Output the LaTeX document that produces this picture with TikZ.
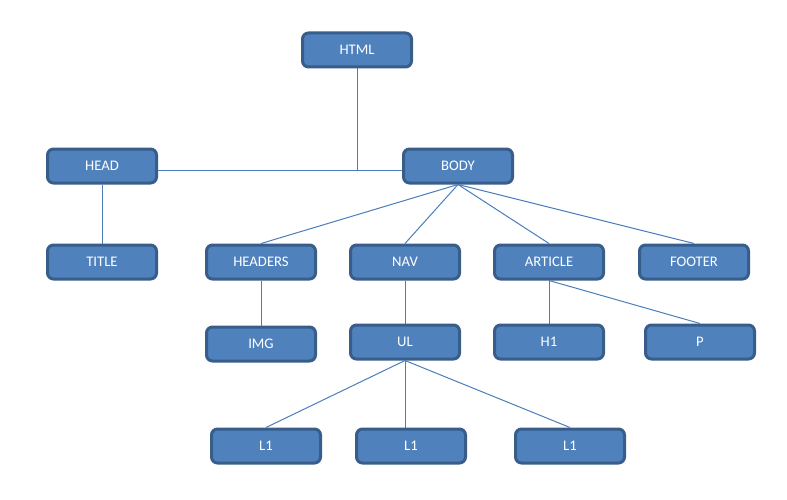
\documentclass[tikz,border=0pt]{standalone}
\usepackage{fontspec}
\setmainfont{Carlito}
\usetikzlibrary{positioning}
\definecolor{boxfill}{HTML}{4F81BD}
\definecolor{boxline}{HTML}{385D8A}
\definecolor{linkblue}{HTML}{4A7EBB}

\begin{document}
\begin{tikzpicture}[x=0.75pt, y=-0.75pt, node distance=24pt,
    tag/.style={draw=boxline, fill=boxfill, line width=2.25pt, rounded corners=4.5pt,
      minimum width=81.75pt, minimum height=25.5pt, text=white,
      font=\fontsize{11}{13}\selectfont},
    wire/.style={draw=linkblue, line width=0.75pt}]
      \useasboundingbox (0,0) rectangle (787,499);

      % top levels
      \node[tag] (html) at (357,50) {HTML};
      \node[tag] (head) [below left=59.25pt and 107.25pt of html] {HEAD};
      \node[tag] (body) [right=183pt of head] {BODY};

      % children of head and body
      \node[tag] (title) [below=44.25pt of head] {TITLE};
      \node[tag] (hdrs) [right=35.25pt of title] {HEADERS};
      \node[tag] (nav) [right=24pt of hdrs] {NAV};
      \node[tag] (art) [right=24pt of nav] {ARTICLE};
      \node[tag] (foot) [right=24.75pt of art] {FOOTER};

      % third row
      \node[tag] (img) [below=33.75pt of hdrs] {IMG};
      \node[tag] (ul) [below=32.25pt of nav] {UL};
      \node[tag] (hone) [below=32.25pt of art] {H1};
      \node[tag] (p) [right=29.25pt of hone] {P};

      % list items
      \node[tag] (li2) [below=50.25pt of ul, xshift=4.5pt] {L1};
      \node[tag] (li1) [left=24.75pt of li2] {L1};
      \node[tag] (li3) [right=35.25pt of li2] {L1};

      \draw[wire] (html.south) -- ([yshift=-3pt]html.south |- head.east);
      \draw[wire] ([yshift=-3pt]head.east) -- ([yshift=-3pt]body.west);
      \path[wire] (head) edge (title)
      (body.south) edge (hdrs.north) (body.south) edge (nav.north)
      (body.south) edge (art.north) (body.south) edge (foot.north)
      (hdrs) edge (img) (nav) edge (ul)
      (art.south) edge (hone.north) (art.south) edge (p.north)
      (ul.south) edge (li1.north) (ul.south) edge (ul.south |- li2.north)
      (ul.south) edge (li3.north);
    \end{tikzpicture}
\end{document}
